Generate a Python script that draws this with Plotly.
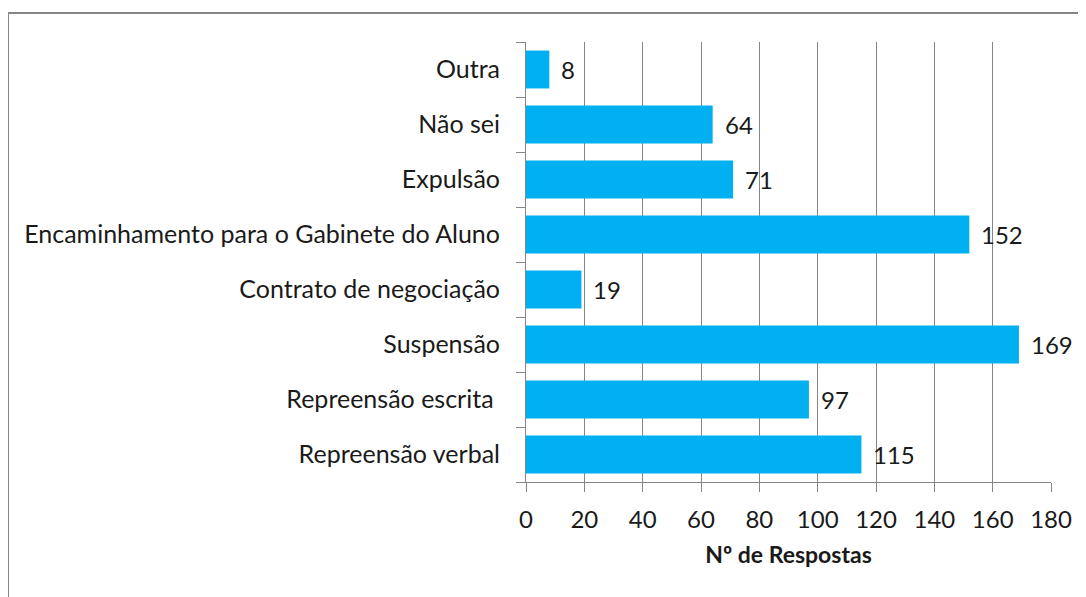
import plotly.graph_objects as go

categories = ["Repreensão verbal", "Repreensão escrita ", "Suspensão", "Contrato de negociação",
              "Encaminhamento para o Gabinete do Aluno", "Expulsão", "Não sei", "Outra"]
values = [115, 97, 169, 19, 152, 71, 64, 8]
x_ticks = [0, 20, 40, 60, 80, 100, 120, 140, 160, 180]
x_title = "Nº de Respostas"

FONT = "Lato"
GRAY = "#868686"

# the page body adds an 8px offset; compensate in margins
L, T, B = 518, 34, 123
PH = 597 - T - B

fig = go.Figure()
fig.add_trace(go.Bar(
    y=categories, x=values, orientation="h",
    marker=dict(color="#00B0F0", line=dict(width=0)),
    width=0.69,
))

for c, v in zip(categories, values):
    fig.add_annotation(x=v, y=c, text=str(v), showarrow=False, xanchor="left",
                       xshift=10, font=dict(family=FONT, size=24, color="#1a1a1a"))

fig.update_layout(
    width=1086, height=597,
    margin=dict(l=L, r=43, t=T, b=B),
    paper_bgcolor="white", plot_bgcolor="white",
    showlegend=False,
    font=dict(family=FONT, size=24, color="#1a1a1a"),
    xaxis=dict(range=[0, 180], tickvals=x_ticks, showgrid=True, gridcolor=GRAY, gridwidth=1,
               showline=True, linecolor=GRAY, linewidth=1, ticks="outside", ticklen=9,
               tickcolor=GRAY, zeroline=False, ticklabelstandoff=7,
               title=dict(text="<b>" + x_title + "</b>", font=dict(family=FONT, size=23), standoff=15)),
    yaxis=dict(type="category", showline=True, linecolor=GRAY, linewidth=1, ticks="outside",
               ticklen=9, tickcolor=GRAY, tickson="boundaries", showgrid=False,
               ticklabelstandoff=20, tickfont=dict(size=25), range=[-0.5, 7.5]),
)

fig.add_shape(type="rect", xref="paper", yref="paper",
              x0=(0 - L) / 525, x1=1.2, y0=-0.5, y1=1 + (T - 5) / PH,
              line=dict(color=GRAY, width=2), fillcolor="rgba(0,0,0,0)", layer="below")

fig.write_html("out.html")
